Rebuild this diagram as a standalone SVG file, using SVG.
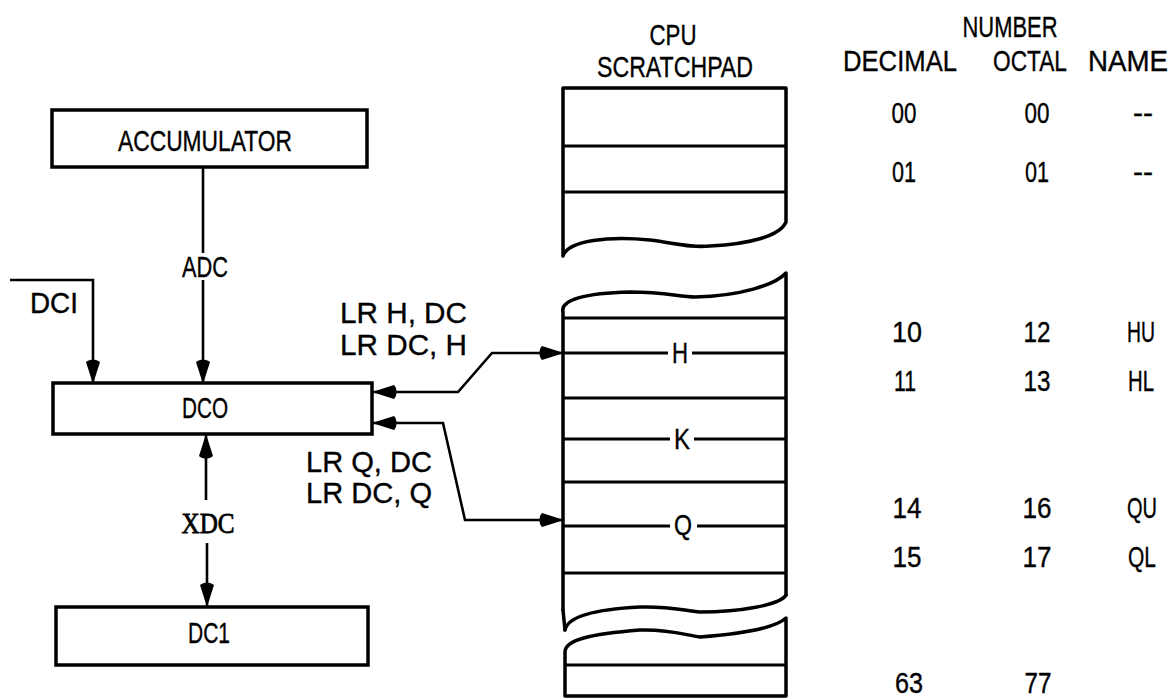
<svg xmlns="http://www.w3.org/2000/svg" width="1174" height="699" viewBox="0 0 1174 699">
<style>
text{font-family:"Liberation Sans",Arial,sans-serif;font-size:29px;fill:#000;stroke:#000;stroke-width:0.35}
.m{text-anchor:middle}
.serif{font-family:"Liberation Serif","Times New Roman",serif;stroke-width:0.8}
.box{fill:#fff;stroke:#000;stroke-width:3.5}
.pad{fill:none;stroke:#000;stroke-width:3.5;stroke-linejoin:round;stroke-linecap:round}
.row{stroke:#000;stroke-width:3}
.conn{fill:none;stroke:#000;stroke-width:2.6;stroke-linejoin:miter}
</style>
<defs>
<marker id="ah" markerUnits="userSpaceOnUse" markerWidth="27" markerHeight="18" viewBox="-4 -9 27 18" refX="21" refY="0" orient="auto-start-reverse">
<path d="M0,-7 C-3.5,-3 -3.5,3 0,7 L22,0 Z" fill="#000"/>
</marker>
</defs>
<rect width="1174" height="699" fill="#fff"/>

<g id="accumulator">
<rect class="box" x="52" y="110" width="315" height="57"/>
<text class="m" x="205" y="151" textLength="174" lengthAdjust="spacingAndGlyphs">ACCUMULATOR</text>
</g>

<g id="dco">
<rect class="box" x="53" y="383" width="319" height="51"/>
<text class="m" x="205" y="418" textLength="46" lengthAdjust="spacingAndGlyphs">DCO</text>
</g>

<g id="dc1">
<rect class="box" x="56" y="607" width="312" height="58"/>
<text class="m" x="209" y="643" textLength="42" lengthAdjust="spacingAndGlyphs">DC1</text>
</g>

<g id="scratchpad">
<text class="m" x="673" y="45" textLength="47" lengthAdjust="spacingAndGlyphs">CPU</text>
<text class="m" x="675" y="77" textLength="156" lengthAdjust="spacingAndGlyphs">SCRATCHPAD</text>
<path class="pad" d="M563,256 L563,88 L786,88 L786,222 C780,236 750,244 710,246 C690,248 675,243 650,240 C610,236 568,240 563,256"/>
<line class="row" x1="563" y1="146" x2="786" y2="146"/>
<line class="row" x1="563" y1="192" x2="786" y2="192"/>
<path class="pad" d="M563,610 L563,312 C560,300 585,293 630,292 C665,292 680,297 695,297 C740,296 775,285 786,273 L786,595"/>
<path class="pad" d="M565,630 C568,615 600,609 640,607 C670,606 685,611 700,612 C740,612 780,605 786,595"/>
<line class="pad" x1="563" y1="610" x2="565" y2="630"/>
<line class="row" x1="563" y1="318" x2="786" y2="318"/>
<line class="row" x1="563" y1="353" x2="668" y2="353"/>
<line class="row" x1="692" y1="353" x2="786" y2="353"/>
<text class="m" x="680" y="363" textLength="16" lengthAdjust="spacingAndGlyphs">H</text>
<line class="row" x1="563" y1="398" x2="786" y2="398"/>
<line class="row" x1="563" y1="439" x2="670" y2="439"/>
<line class="row" x1="694" y1="439" x2="786" y2="439"/>
<text class="m" x="682" y="449" textLength="16" lengthAdjust="spacingAndGlyphs">K</text>
<line class="row" x1="563" y1="482" x2="786" y2="482"/>
<line class="row" x1="563" y1="526" x2="670" y2="526"/>
<line class="row" x1="697" y1="526" x2="786" y2="526"/>
<text class="m" x="683" y="535" textLength="18" lengthAdjust="spacingAndGlyphs">Q</text>
<line class="row" x1="563" y1="573" x2="786" y2="573"/>
<path class="pad" d="M565,696 L565,652 C565,640 590,634 640,630 C670,629 685,635 700,637 C740,634 775,628 786,618 L786,696 Z"/>
<line class="row" x1="565" y1="665" x2="786" y2="665"/>
</g>

<g id="table">
<text class="m" x="1010" y="37" textLength="95" lengthAdjust="spacingAndGlyphs">NUMBER</text>
<text class="m" x="900" y="71" textLength="114" lengthAdjust="spacingAndGlyphs">DECIMAL</text>
<text class="m" x="1030" y="71" textLength="74" lengthAdjust="spacingAndGlyphs">OCTAL</text>
<text class="m" x="1128" y="71" textLength="80" lengthAdjust="spacingAndGlyphs">NAME</text>
<text class="m" x="904" y="123" textLength="25" lengthAdjust="spacingAndGlyphs">00</text>
<text class="m" x="1037" y="123" textLength="25" lengthAdjust="spacingAndGlyphs">00</text>
<text class="m" x="1143" y="123" textLength="20" lengthAdjust="spacingAndGlyphs">--</text>
<text class="m" x="904" y="182" textLength="24" lengthAdjust="spacingAndGlyphs">01</text>
<text class="m" x="1037" y="182" textLength="24" lengthAdjust="spacingAndGlyphs">01</text>
<text class="m" x="1143" y="182" textLength="20" lengthAdjust="spacingAndGlyphs">--</text>
<text class="m" x="907" y="342" textLength="30" lengthAdjust="spacingAndGlyphs">10</text>
<text class="m" x="1037" y="342" textLength="27" lengthAdjust="spacingAndGlyphs">12</text>
<text class="m" x="1141" y="342" textLength="28" lengthAdjust="spacingAndGlyphs">HU</text>
<text class="m" x="905" y="391" textLength="22" lengthAdjust="spacingAndGlyphs">11</text>
<text class="m" x="1037" y="391" textLength="27" lengthAdjust="spacingAndGlyphs">13</text>
<text class="m" x="1141" y="391" textLength="26" lengthAdjust="spacingAndGlyphs">HL</text>
<text class="m" x="907" y="518" textLength="29" lengthAdjust="spacingAndGlyphs">14</text>
<text class="m" x="1037" y="518" textLength="29" lengthAdjust="spacingAndGlyphs">16</text>
<text class="m" x="1142" y="518" textLength="30" lengthAdjust="spacingAndGlyphs">QU</text>
<text class="m" x="907" y="567" textLength="29" lengthAdjust="spacingAndGlyphs">15</text>
<text class="m" x="1037" y="567" textLength="29" lengthAdjust="spacingAndGlyphs">17</text>
<text class="m" x="1142" y="567" textLength="28" lengthAdjust="spacingAndGlyphs">QL</text>
<text class="m" x="909" y="693" textLength="28" lengthAdjust="spacingAndGlyphs">63</text>
<text class="m" x="1038" y="693" textLength="27" lengthAdjust="spacingAndGlyphs">77</text>
</g>

<g id="connectors">
<line class="conn" x1="203" y1="167" x2="203" y2="253"/>
<line class="conn" x1="203" y1="280" x2="203" y2="383" marker-end="url(#ah)"/>
<polyline class="conn" points="10,280 93,280 93,383" marker-end="url(#ah)"/>
<line class="conn" x1="206" y1="500" x2="206" y2="435" marker-end="url(#ah)"/>
<line class="conn" x1="207" y1="543" x2="207" y2="606" marker-end="url(#ah)"/>
<polyline class="conn" points="373,392 458,392 492,353 563,353" marker-start="url(#ah)" marker-end="url(#ah)"/>
<polyline class="conn" points="373,423 443,423 465,520 563,520" marker-start="url(#ah)" marker-end="url(#ah)"/>
</g>

<g id="labels">
<text class="m" x="205" y="277" textLength="46" lengthAdjust="spacingAndGlyphs">ADC</text>
<text class="m" x="54" y="313" textLength="48" lengthAdjust="spacingAndGlyphs">DCI</text>
<text class="m serif" x="208" y="533" textLength="53" lengthAdjust="spacingAndGlyphs">XDC</text>
<text x="340" y="323" textLength="127" lengthAdjust="spacingAndGlyphs">LR H, DC</text>
<text x="340" y="355" textLength="127" lengthAdjust="spacingAndGlyphs">LR DC, H</text>
<text x="306" y="472" textLength="126" lengthAdjust="spacingAndGlyphs">LR Q, DC</text>
<text x="306" y="503" textLength="126" lengthAdjust="spacingAndGlyphs">LR DC, Q</text>
</g>
</svg>
